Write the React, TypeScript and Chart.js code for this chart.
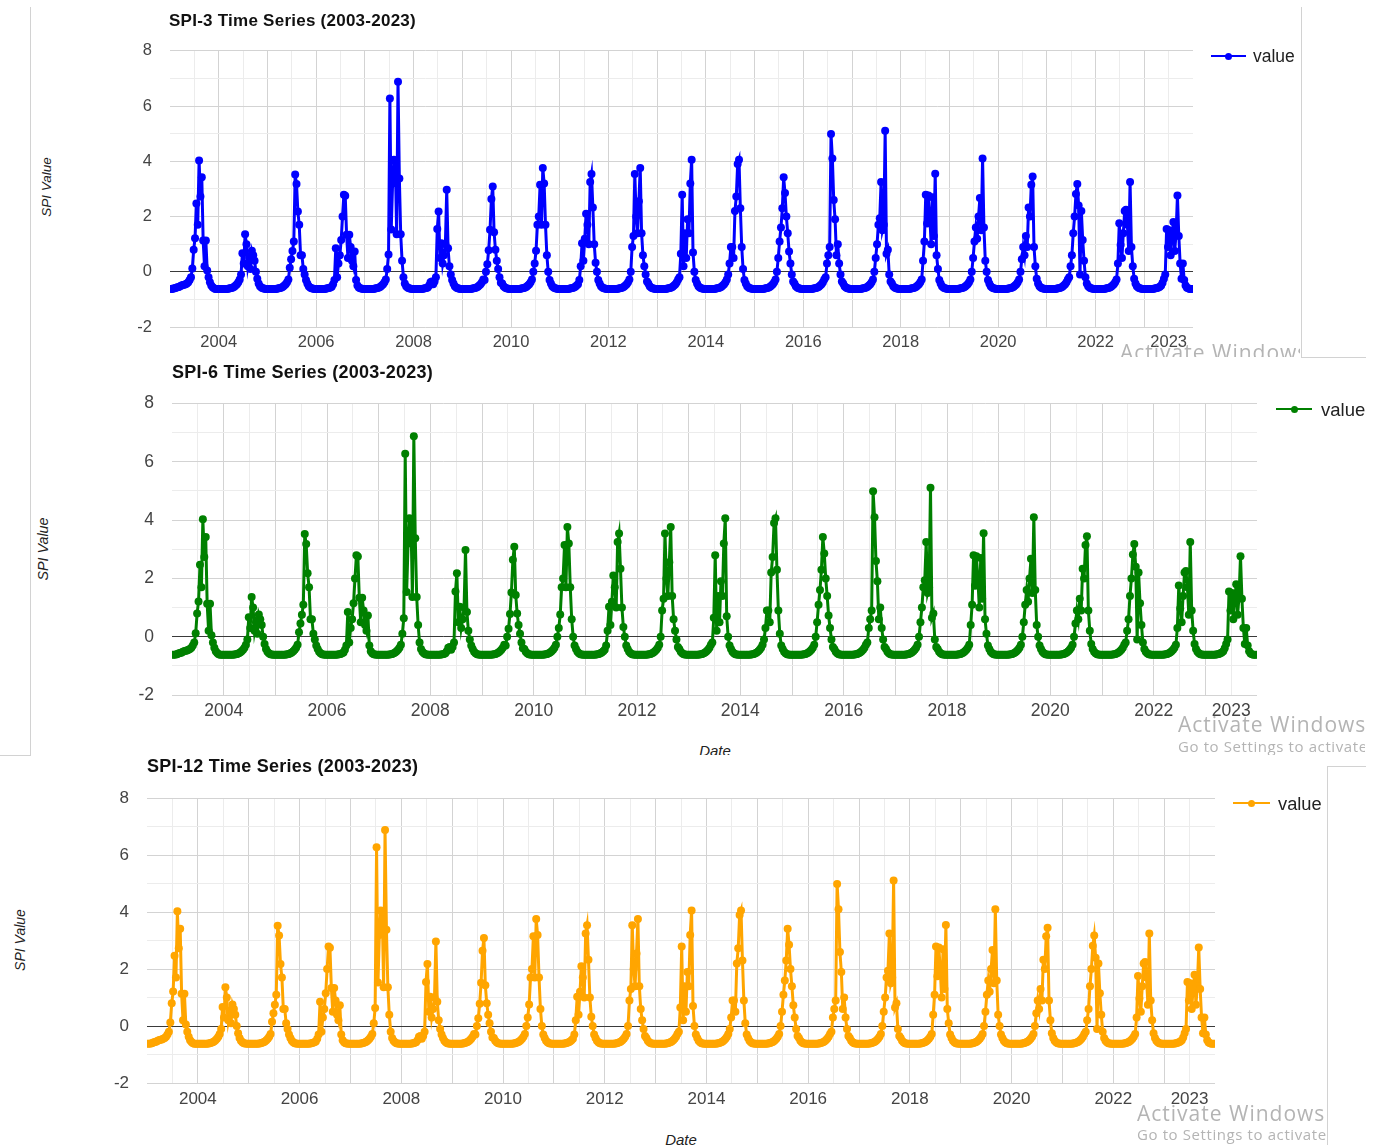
import React, { useEffect, useRef } from 'react';
import { Chart, registerables } from 'chart.js';

Chart.register(...registerables);

// ---------- data (dekadal SPI values, 36 per year) ----------
const years = [2003, 2004, 2005, 2006, 2007, 2008, 2009, 2010, 2011, 2012, 2013, 2014, 2015, 2016, 2017, 2018, 2019, 2020, 2021, 2022, 2023];

const spi2003 = [-0.62,-0.62,-0.61,-0.6,-0.58,-0.56,-0.55,-0.52,-0.5,-0.48,-0.47,-0.45,-0.42,-0.38,-0.3,-0.2,0.12,0.8,1.21,2.47,1.7,4.03,2.73,3.42,1.13,0.2,1.13,0.05,-0.2,-0.38,-0.5,-0.56,-0.6,-0.62,-0.62,-0.62];
const spi2004 = [-0.62,-0.62,-0.62,-0.62,-0.62,-0.62,-0.62,-0.61,-0.6,-0.59,-0.57,-0.54,-0.5,-0.45,-0.38,-0.28,-0.1,0.67,0.3,1.36,1.0,0.2,0.5,0.1,0.76,0.6,0.4,0.0,-0.25,-0.42,-0.52,-0.57,-0.6,-0.61,-0.62,-0.62];
const spi2005 = [-0.62,-0.62,-0.62,-0.62,-0.62,-0.62,-0.62,-0.61,-0.6,-0.59,-0.57,-0.54,-0.5,-0.45,-0.38,-0.28,0.15,0.45,0.75,1.1,3.52,3.18,2.18,1.7,0.6,0.6,0.1,-0.1,-0.3,-0.42,-0.52,-0.57,-0.6,-0.61,-0.62,-0.62];
const spi2006 = [-0.62,-0.62,-0.62,-0.62,-0.62,-0.62,-0.62,-0.61,-0.6,-0.59,-0.57,-0.54,-0.45,-0.3,0.85,-0.2,0.3,0.6,1.15,2.0,2.79,2.75,1.34,0.5,1.34,0.9,0.4,0.2,0.73,-0.3,-0.5,-0.57,-0.6,-0.61,-0.62,-0.62];
const spi2007 = [-0.62,-0.62,-0.62,-0.62,-0.62,-0.62,-0.62,-0.61,-0.6,-0.59,-0.57,-0.54,-0.5,-0.45,-0.38,-0.28,0.1,0.63,6.28,1.53,3.2,4.06,4.0,1.36,6.88,3.38,1.36,0.4,-0.2,-0.42,-0.52,-0.57,-0.6,-0.61,-0.62,-0.62];
const spi2008 = [-0.62,-0.62,-0.62,-0.62,-0.62,-0.62,-0.62,-0.61,-0.6,-0.59,-0.57,-0.5,-0.38,-0.35,-0.45,-0.35,-0.2,1.55,2.18,0.5,1.03,0.3,0.6,1.0,2.97,0.85,0.2,-0.1,-0.3,-0.42,-0.52,-0.57,-0.6,-0.61,-0.62,-0.62];
const spi2009 = [-0.62,-0.62,-0.62,-0.62,-0.62,-0.62,-0.62,-0.61,-0.6,-0.59,-0.57,-0.54,-0.5,-0.45,-0.38,-0.28,-0.3,0.0,0.27,0.78,1.52,2.64,3.09,1.43,0.8,0.4,0.1,-0.2,-0.4,-0.42,-0.52,-0.57,-0.6,-0.61,-0.62,-0.62];
const spi2010 = [-0.62,-0.62,-0.62,-0.62,-0.62,-0.62,-0.62,-0.61,-0.6,-0.59,-0.57,-0.54,-0.5,-0.45,-0.38,-0.28,0.0,0.3,0.76,1.7,2.0,3.15,1.7,3.76,3.2,1.7,0.6,0.0,-0.3,-0.42,-0.52,-0.57,-0.6,-0.61,-0.62,-0.62];
const spi2011 = [-0.62,-0.62,-0.62,-0.62,-0.62,-0.62,-0.62,-0.61,-0.6,-0.59,-0.57,-0.54,-0.5,-0.45,-0.3,0.2,1.03,0.4,1.2,2.1,1.7,1.0,3.25,3.54,2.33,1.0,0.33,0.0,-0.3,-0.42,-0.52,-0.57,-0.6,-0.61,-0.62,-0.62];
const spi2012 = [-0.62,-0.62,-0.62,-0.62,-0.62,-0.62,-0.62,-0.61,-0.6,-0.59,-0.57,-0.54,-0.5,-0.45,-0.38,-0.28,0.0,0.9,1.3,3.54,2.0,1.4,2.55,3.76,1.4,0.6,0.2,-0.1,-0.35,-0.42,-0.52,-0.57,-0.6,-0.61,-0.62,-0.62];
const spi2013 = [-0.62,-0.62,-0.62,-0.62,-0.62,-0.62,-0.62,-0.61,-0.6,-0.59,-0.57,-0.54,-0.5,-0.45,-0.38,-0.28,-0.2,0.65,2.79,0.2,1.4,0.5,1.9,1.4,3.2,4.06,0.7,0.0,-0.3,-0.42,-0.52,-0.57,-0.6,-0.61,-0.62,-0.62];
const spi2014 = [-0.62,-0.62,-0.62,-0.62,-0.62,-0.62,-0.62,-0.61,-0.6,-0.59,-0.57,-0.54,-0.5,-0.45,-0.38,-0.28,-0.1,0.3,0.9,0.9,0.5,2.2,2.73,3.9,4.06,2.3,0.9,0.1,-0.3,-0.42,-0.52,-0.57,-0.6,-0.61,-0.62,-0.62];
const spi2015 = [-0.62,-0.62,-0.62,-0.62,-0.62,-0.62,-0.62,-0.61,-0.6,-0.59,-0.57,-0.54,-0.5,-0.45,-0.38,-0.28,0.0,0.5,1.1,1.6,2.3,3.42,2.85,2.0,1.4,0.73,0.3,-0.1,-0.35,-0.42,-0.52,-0.57,-0.6,-0.61,-0.62,-0.62];
const spi2016 = [-0.62,-0.62,-0.62,-0.62,-0.62,-0.62,-0.62,-0.61,-0.6,-0.59,-0.57,-0.54,-0.5,-0.45,-0.38,-0.28,-0.2,0.3,0.6,0.9,4.99,4.1,2.6,1.9,0.6,1.0,0.3,-0.1,-0.35,-0.42,-0.52,-0.57,-0.6,-0.61,-0.62,-0.62];
const spi2017 = [-0.62,-0.62,-0.62,-0.62,-0.62,-0.62,-0.62,-0.61,-0.6,-0.59,-0.57,-0.54,-0.5,-0.45,-0.38,-0.28,0.0,0.5,1.0,1.7,1.94,3.25,1.5,1.7,5.11,0.65,0.8,-0.1,-0.35,-0.42,-0.52,-0.57,-0.6,-0.61,-0.62,-0.62];
const spi2018 = [-0.62,-0.62,-0.62,-0.62,-0.62,-0.62,-0.62,-0.61,-0.6,-0.59,-0.57,-0.54,-0.5,-0.45,-0.38,-0.28,0.4,1.1,2.79,1.75,2.76,2.0,1.0,2.7,1.3,3.55,0.6,0.1,-0.3,-0.42,-0.52,-0.57,-0.6,-0.61,-0.62,-0.62];
const spi2019 = [-0.62,-0.62,-0.62,-0.62,-0.62,-0.62,-0.62,-0.61,-0.6,-0.59,-0.57,-0.54,-0.5,-0.45,-0.38,-0.28,0.0,0.5,1.1,1.6,1.2,2.0,2.67,1.5,4.1,1.6,0.4,0.0,-0.3,-0.42,-0.52,-0.57,-0.6,-0.61,-0.62,-0.62];
const spi2020 = [-0.62,-0.62,-0.62,-0.62,-0.62,-0.62,-0.62,-0.61,-0.6,-0.59,-0.57,-0.54,-0.5,-0.45,-0.38,-0.28,0.0,0.45,0.9,0.6,1.3,0.9,2.33,2.0,3.15,3.45,0.9,0.2,-0.25,-0.42,-0.52,-0.57,-0.6,-0.61,-0.62,-0.62];
const spi2021 = [-0.62,-0.62,-0.62,-0.62,-0.62,-0.62,-0.62,-0.61,-0.6,-0.59,-0.57,-0.54,-0.5,-0.45,-0.38,-0.28,-0.2,0.2,0.6,1.4,2.0,2.82,3.18,2.4,-0.1,2.2,1.15,0.4,-0.2,-0.42,-0.52,-0.57,-0.6,-0.61,-0.62,-0.62];
const spi2022 = [-0.62,-0.62,-0.62,-0.62,-0.62,-0.62,-0.62,-0.61,-0.6,-0.59,-0.57,-0.54,-0.5,-0.45,-0.38,-0.28,0.3,1.76,0.97,0.5,1.4,2.2,2.25,1.7,0.75,3.25,0.9,0.2,-0.25,-0.42,-0.52,-0.57,-0.6,-0.61,-0.62,-0.62];
const spi2023 = [-0.62,-0.62,-0.62,-0.62,-0.62,-0.62,-0.62,-0.61,-0.6,-0.59,-0.57,-0.54,-0.5,-0.4,-0.25,-0.1,1.55,0.9,1.5,0.6,1.3,1.8,0.75,1.4,2.76,1.3,0.3,-0.25,0.3,-0.3,-0.5,-0.58,-0.6,-0.62,-0.62,-0.62];

const seriesByYear = [spi2003, spi2004, spi2005, spi2006, spi2007, spi2008, spi2009, spi2010, spi2011, spi2012, spi2013, spi2014, spi2015, spi2016, spi2017, spi2018, spi2019, spi2020, spi2021, spi2022, spi2023];

const xTickLabels = ['2004', '2006', '2008', '2010', '2012', '2014', '2016', '2018', '2020', '2022', '2023'];
const yTickLabels = ['-2', '0', '2', '4', '6', '8'];
const chartTitles = ['SPI-3 Time Series (2003-2023)', 'SPI-6 Time Series (2003-2023)', 'SPI-12 Time Series (2003-2023)'];
const seriesColors = ['#0000ff', '#008000', '#ffa500'];
const legendLabel = 'value';
const yAxisTitle = 'SPI Value';
const xAxisTitle = 'Date';

const points = years.flatMap((yr, i) =>
  seriesByYear[i].map((v, d) => ({ x: yr + (d + 0.5) / 36, y: v }))
);

const FONT = "'Liberation Sans', Arial, Helvetica, sans-serif";
const WM_FONT = "'Open Sans', 'Noto Sans', sans-serif";

function xLabelFor(v: number): string {
  if (Number.isInteger(v) && xTickLabels.includes(String(v)) && v !== 2023) return String(v);
  if (v === 2023.5) return xTickLabels[xTickLabels.length - 1];
  return '';
}

type Spec = {
  left: number; top: number; right: number; bottom: number;
  color: string; font: number; title: string;
  titleX: number; titleY: number; titleSize: number;
  yTitleX: number; yTitleY: number; yTitleSize: number;
  legX1: number; legX2: number; legY: number; legTextX: number; legSize: number;
};

const PAD_L = 60, PAD_T = 15, PAD_R = 25, PAD_B = 36, EXTRA_T = 12;

function Panel({ s }: { s: Spec }) {
  const ref = useRef<HTMLCanvasElement>(null);
  const w = s.right - s.left + PAD_L + PAD_R;
  const h = s.bottom - s.top + PAD_T + EXTRA_T + PAD_B;
  useEffect(() => {
    const xt: number[] = [];
    for (let v = 2003.5; v <= 2023.5; v += 0.5) xt.push(v);
    const chart = new Chart(ref.current as HTMLCanvasElement, {
      type: 'line',
      data: {
        datasets: [{
          label: legendLabel,
          data: points,
          borderColor: s.color,
          backgroundColor: s.color,
          borderWidth: 3,
          pointRadius: 4,
          pointBorderWidth: 0,
          pointBackgroundColor: s.color,
          tension: 0,
        }],
      },
      options: {
        animation: false,
        responsive: false,
        devicePixelRatio: 1,
        layout: { padding: { top: PAD_T, right: PAD_R, left: 0, bottom: 0 } },
        plugins: { legend: { display: false }, title: { display: false }, tooltip: { enabled: false } },
        scales: {
          x: {
            type: 'linear',
            min: 2003,
            max: 2024,
            afterBuildTicks: (sc: any) => { sc.ticks = xt.map((v) => ({ value: v })); },
            afterFit: (sc: any) => { sc.height = PAD_B; },
            border: { display: false },
            grid: {
              drawTicks: false,
              lineWidth: 1,
              color: (c: any) => (c.tick && Number.isInteger(c.tick.value) ? '#d3d3d3' : '#ececec'),
            },
            ticks: {
              autoSkip: false, maxRotation: 0, minRotation: 0, padding: 6,
              color: '#444', font: { family: FONT, size: s.font },
              callback: (v: any) => xLabelFor(Number(v)),
            },
          },
          y: {
            type: 'linear',
            min: -2,
            max: 8,
            afterFit: (sc: any) => { sc.width = PAD_L; },
            border: { display: false },
            grid: {
              drawTicks: false,
              lineWidth: 1,
              color: (c: any) => {
                const v = c.tick ? c.tick.value : 1;
                if (v === 0) return '#3a3a3a';
                return yTickLabels.includes(String(v)) ? '#d3d3d3' : '#ececec';
              },
            },
            ticks: {
              stepSize: 1, autoSkip: false, padding: 18,
              color: '#444', font: { family: FONT, size: s.font },
              callback: (v: any) => (yTickLabels.includes(String(v)) ? String(v) : ''),
            },
          },
        },
      } as any,
    });
    return () => chart.destroy();
  }, []);
  return (
    <canvas
      ref={ref}
      width={w}
      height={h}
      style={{ position: 'absolute', left: s.left - PAD_L, top: s.top - PAD_T - EXTRA_T }}
    />
  );
}

function Overlay({ s }: { s: Spec }) {
  return (
    <>
      <div style={{ position: 'absolute', left: s.titleX, top: s.titleY - 0.56 * s.titleSize, fontFamily: FONT, fontWeight: 'bold', fontSize: s.titleSize, lineHeight: `${s.titleSize * 1.15}px`, letterSpacing: '0.25px', color: '#111', whiteSpace: 'nowrap' }}>{s.title}</div>
      <div style={{ position: 'absolute', left: s.yTitleX, top: s.yTitleY, transform: 'translate(-50%,-50%) rotate(-90deg)', fontFamily: FONT, fontStyle: 'italic', fontSize: s.yTitleSize, color: '#222', whiteSpace: 'nowrap', lineHeight: 1 }}>{yAxisTitle}</div>
      <div style={{ position: 'absolute', left: s.legX1, top: s.legY - 1, width: s.legX2 - s.legX1, height: 2.4, background: s.color }} />
      <div style={{ position: 'absolute', left: (s.legX1 + s.legX2) / 2 - 3.5, top: s.legY - 3.3, width: 7, height: 7, borderRadius: '50%', background: s.color }} />
      <div style={{ position: 'absolute', left: s.legTextX, top: s.legY - 0.56 * s.legSize, fontFamily: FONT, fontSize: s.legSize, lineHeight: `${s.legSize * 1.15}px`, color: '#222', whiteSpace: 'nowrap' }}>{legendLabel}</div>
    </>
  );
}

const specs: Spec[] = [
  { left: 170, top: 50, right: 1193, bottom: 327, color: seriesColors[0], font: 16.5, title: chartTitles[0],
    titleX: 169, titleY: 21, titleSize: 17, yTitleX: 47, yTitleY: 187, yTitleSize: 13.5,
    legX1: 1211, legX2: 1246, legY: 56, legTextX: 1253, legSize: 17.5 },
  { left: 172, top: 402, right: 1257, bottom: 695, color: seriesColors[1], font: 17.5, title: chartTitles[1],
    titleX: 172, titleY: 372, titleSize: 18, yTitleX: 43, yTitleY: 549, yTitleSize: 14.3,
    legX1: 1276, legX2: 1312, legY: 409, legTextX: 1321, legSize: 18.5 },
  { left: 147, top: 797, right: 1215, bottom: 1083, color: seriesColors[2], font: 17, title: chartTitles[2],
    titleX: 147, titleY: 766, titleSize: 18, yTitleX: 19.5, yTitleY: 940, yTitleSize: 14,
    legX1: 1233, legX2: 1270, legY: 803, legTextX: 1278, legSize: 18.3 },
];

function Line({ l, t, w, h }: { l: number; t: number; w: number; h: number }) {
  return <div style={{ position: 'absolute', left: l, top: t, width: w, height: h, background: '#d2d2d2' }} />;
}

function Clip({ l, t, w, h, children }: { l: number; t: number; w: number; h: number; children: any }) {
  return <div style={{ position: 'absolute', left: l, top: t, width: w, height: h, overflow: 'hidden' }}>{children}</div>;
}

function WM({ x, capTop, size, text, ls }: { x: number; capTop: number; size: number; text: string; ls: number }) {
  return (
    <div style={{ position: 'absolute', left: x, top: capTop - 0.355 * size, fontFamily: WM_FONT, fontSize: size, lineHeight: `${size * 1.362}px`, letterSpacing: `${ls}px`, color: '#b4b4b4', whiteSpace: 'nowrap' }}>{text}</div>
  );
}

export default function App() {
  return (
    <div style={{ position: 'absolute', left: 0, top: 0, width: 1383, height: 1145, background: '#fff', overflow: 'hidden' }}>
      {specs.map((s, i) => <Panel key={i} s={s} />)}
      {specs.map((s, i) => <Overlay key={'o' + i} s={s} />)}

      {/* x-axis titles (clipped like the reference) */}
      <Clip l={650} t={735} w={130} h={20}>
        <div style={{ position: 'absolute', left: 65, top: 15 - 0.56 * 15, transform: 'translateX(-50%)', fontFamily: FONT, fontStyle: 'italic', fontSize: 15, lineHeight: '17px', color: '#222' }}>{xAxisTitle}</div>
      </Clip>
      <div style={{ position: 'absolute', left: 681, top: 1139 - 0.56 * 15, transform: 'translateX(-50%)', fontFamily: FONT, fontStyle: 'italic', fontSize: 15, lineHeight: '17px', color: '#222' }}>{xAxisTitle}</div>

      {/* watermark text captured in the screenshot */}
      <Clip l={1110} t={330} w={190} h={27}>
        <WM x={10} capTop={15} size={21} text="Activate Windows" ls={1} />
      </Clip>
      <Clip l={1170} t={700} w={195} h={55}>
        <WM x={8} capTop={17} size={21} text="Activate Windows" ls={1} />
        <WM x={8} capTop={41} size={15} text="Go to Settings to activate Windows." ls={0.6} />
      </Clip>
      <Clip l={1130} t={1095} w={197} h={50}>
        <WM x={7} capTop={11} size={21} text="Activate Windows" ls={1} />
        <WM x={7} capTop={34} size={15} text="Go to Settings to activate Windows." ls={0.6} />
      </Clip>

      {/* screenshot frame lines */}
      <Line l={30} t={7} w={1} h={748} />
      <Line l={0} t={755} w={31} h={1} />
      <Line l={1301} t={7} w={1} h={350} />
      <Line l={1301} t={357} w={65} h={1} />
      <Line l={1327} t={766} w={1} h={379} />
      <Line l={1327} t={766} w={39} h={1} />
    </div>
  );
}
